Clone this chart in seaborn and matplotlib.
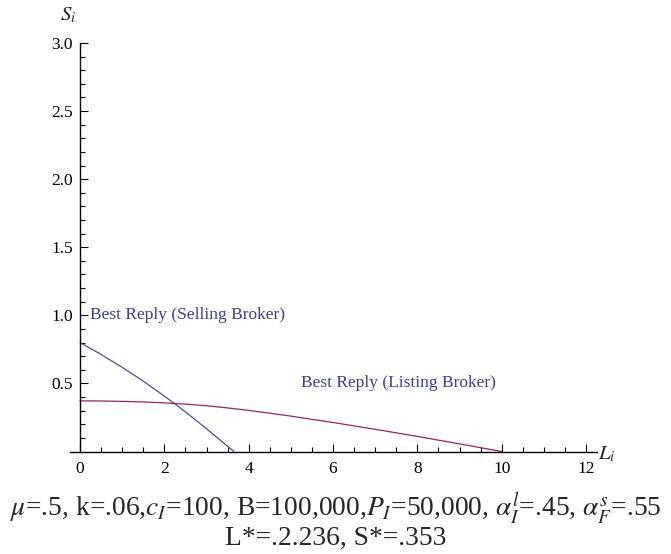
import numpy as np
import pandas as pd
import matplotlib
matplotlib.use("Agg")
import matplotlib.pyplot as plt
import seaborn as sns
from matplotlib.ticker import FixedLocator

# Data
selling_L = [0.0, 0.5, 1.0, 1.5, 2.0, 2.236, 2.5, 3.0, 3.3, 3.65]
selling_S = [0.80, 0.713, 0.618, 0.517, 0.407, 0.353, 0.291, 0.167, 0.090, 0.0]

listing_L = [0.0, 0.5, 1.0, 1.5, 2.0, 2.5, 3.0, 3.5, 4.0, 5.0, 6.0, 7.0, 8.0, 9.0, 10.0]
listing_S = [0.372, 0.371, 0.368, 0.364, 0.357, 0.348, 0.336, 0.320, 0.302,
             0.260, 0.213, 0.163, 0.111, 0.056, 0.0]

x_ticks = [0, 2, 4, 6, 8, 10, 12]
y_ticks = [0.5, 1.0, 1.5, 2.0, 2.5, 3.0]

sns.set_style("ticks")
plt.rcParams['font.family'] = ['Liberation Serif', 'DejaVu Serif']
plt.rcParams['mathtext.fontset'] = 'stix'
serif = ['Liberation Serif', 'DejaVu Serif']

df = pd.concat([
    pd.DataFrame({"L": selling_L, "S": selling_S, "curve": "selling"}),
    pd.DataFrame({"L": listing_L, "S": listing_S, "curve": "listing"}),
])

fig = plt.figure(figsize=(6.71, 5.54), dpi=100)
ax = fig.add_axes([70/671, (554-451.5)/554, 527/671, 408.5/554])

palette = {"selling": "#4b4ba6", "listing": "#9b2266"}
sns.lineplot(data=df, x="L", y="S", hue="curve", palette=palette, sort=False,
             estimator=None, linewidth=0.9, legend=False, ax=ax)

ax.set_xlim(-0.237, 12.26)
ax.set_ylim(0, 3.0)

for s in ['top', 'right']:
    ax.spines[s].set_visible(False)
ax.spines['left'].set_position(('data', 0))
ax.spines['left'].set_bounds(0, 3.0)
for s in ['left', 'bottom']:
    ax.spines[s].set_linewidth(1.0)
    ax.spines[s].set_color('black')

ax.xaxis.set_major_locator(FixedLocator(x_ticks))
ax.xaxis.set_minor_locator(FixedLocator([v + 0.5 * k for v in range(0, 12, 2) for k in (1, 2, 3)]))
ax.yaxis.set_major_locator(FixedLocator(y_ticks))
ax.yaxis.set_minor_locator(FixedLocator([round(0.1 * i, 2) for i in range(1, 30) if i % 5 != 0]))
ax.set_xticklabels([str(v) for v in x_ticks], family=serif)
ax.set_yticklabels([f"{v:.1f}" for v in y_ticks], family=serif)
ax.tick_params(which='both', direction='in', color='black', width=0.8, labelsize=12.5,
               labelcolor='black', bottom=True, left=True)
ax.tick_params(which='major', length=6)
ax.tick_params(which='minor', length=3.5)
ax.tick_params(axis='x', which='major', pad=7)
ax.tick_params(axis='y', which='major', pad=5)
ax.set_xlabel("")
ax.set_ylabel("")

ax.text(-0.27, 3.2, r"$S_i$", fontsize=15, ha='center', va='center', transform=ax.transData, clip_on=False)
ax.text(12.5, -0.02, r"$L_i$", fontsize=15, ha='center', va='center', transform=ax.transData, clip_on=False)

ax.text(0.24, 1.0, "Best Reply (Selling Broker)", color="#3c3c9c", fontsize=12.5,
        ha='left', va='center', family=serif)
ax.text(5.25, 0.5, "Best Reply (Listing Broker)", color="#3c3c9c", fontsize=12.5,
        ha='left', va='center', family=serif)

fig.text(0.5, (554-509)/554,
         r"$\mu$=.5, k=.06,$c_I$=100, B=100,000,$P_I$=50,000, $\alpha_I^l$=.45, $\alpha_F^s$=.55",
         fontsize=19.8, ha='center', va='center', family=serif)
fig.text(0.5, (554-538)/554, "L*=.2.236, S*=.353", fontsize=19.8, ha='center', va='center',
         family=serif)

fig.savefig("out.png", dpi=100)
